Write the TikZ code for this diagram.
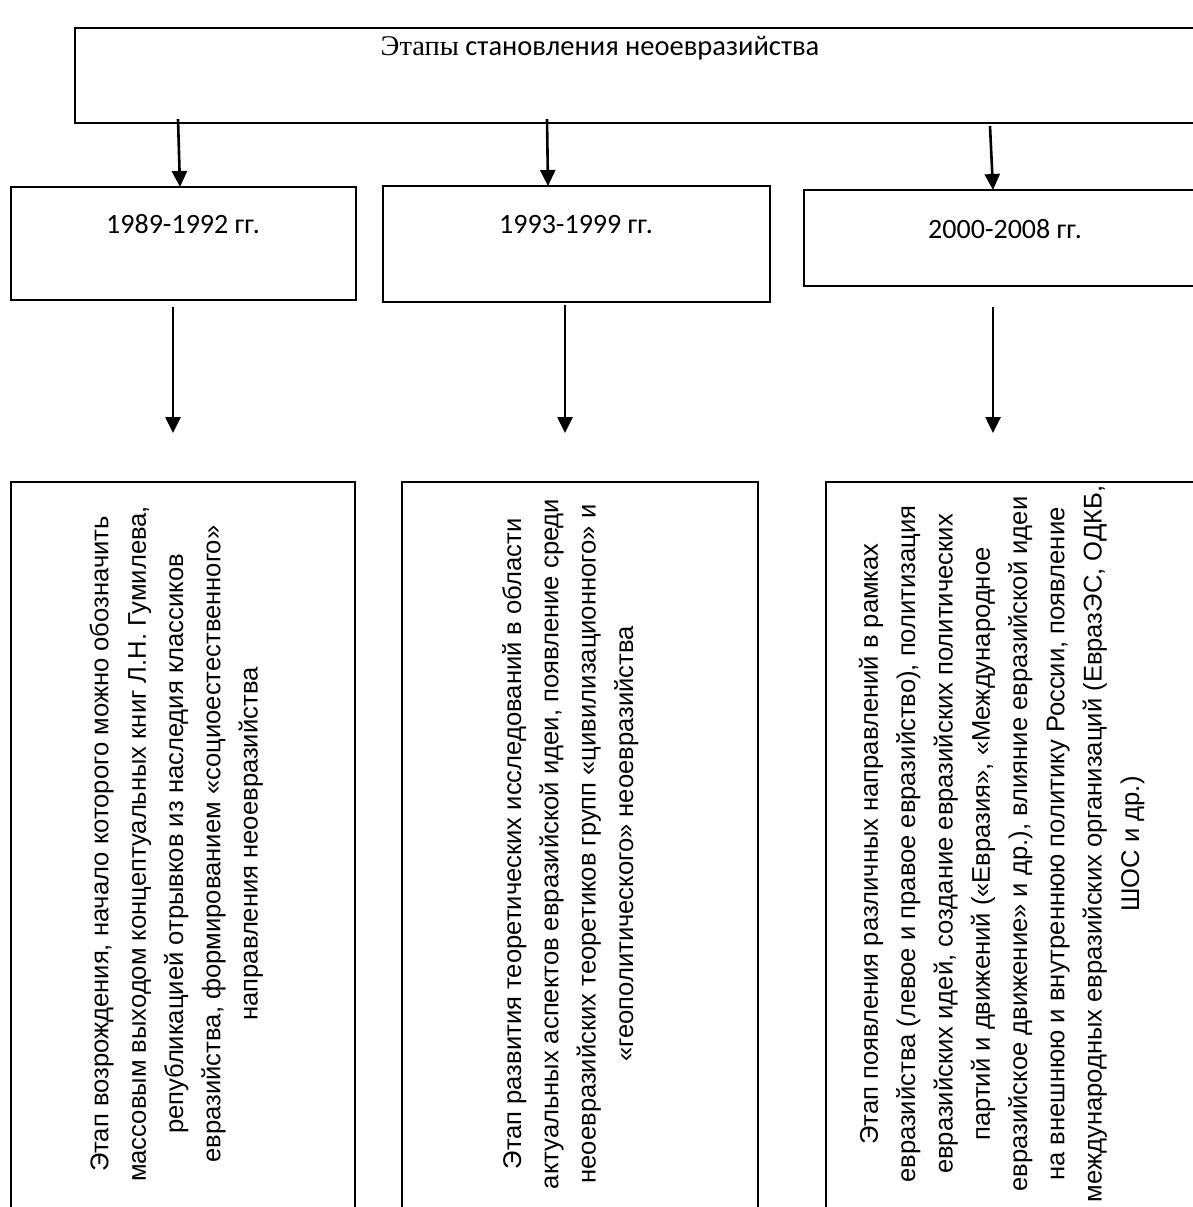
\documentclass[tikz,border=0pt]{standalone}
\usepackage{fontspec}
\setmainfont{Liberation Sans}
\newfontfamily\calib{Carlito}
\newfontfamily\timesf{Liberation Serif}
\usetikzlibrary{arrows.meta}
\begin{document}
\begin{tikzpicture}[x=1pt,y=-1pt,
  box/.style={draw,line width=2.6pt,inner sep=0pt,outer sep=0pt},
  arr/.style={line width=2.6pt,-{Triangle[length=16pt,width=15pt]}},
  yeartext/.style={inner sep=0pt,anchor=base,font=\calib\fontsize{28}{34}\selectfont},
  vtext/.style={inner sep=0pt,anchor=center,rotate=90,align=center,font=\fontsize{25.6}{37.3}\selectfont}]
\useasboundingbox (0,0) rectangle (1193,1207);
\fill[white] (0,0) rectangle (1193,1207);
\clip (0,0) rectangle (1193,1207);
% boxes
\node[box,anchor=north west,minimum width=1140pt,minimum height=95pt] (top) at (75,28) {};
\node[box,anchor=north west,minimum width=345pt,minimum height=113pt] (y1) at (11,187) {};
\node[box,anchor=north west,minimum width=387pt,minimum height=116pt] (y2) at (383,186) {};
\node[box,anchor=north west,minimum width=402pt,minimum height=96pt] (y3) at (804,190) {};
\node[box,anchor=north west,minimum width=344pt,minimum height=760pt] (b1) at (11,482) {};
\node[box,anchor=north west,minimum width=356pt,minimum height=760pt] (b2) at (402,482) {};
\node[box,anchor=north west,minimum width=400pt,minimum height=760pt] (b3) at (826,482) {};
% texts
\node[inner sep=0pt,anchor=base,font=\calib\fontsize{28.5}{34}\selectfont] (title) at (600,56) {{\timesf Этапы} становления неоевразийства};
\node[yeartext] (t1) at (183,233) {1989-1992 гг.};
\node[yeartext] (t2) at (576,233) {1993-1999 гг.};
\node[yeartext] (t3) at (1005,238) {2000-2008 гг.};
\node[vtext] (d1) at (175.6,844) {\strut Этап возрождения, начало которого можно обозначить\\
массовым выходом концептуальных книг Л.Н. Гумилева,\\
републикацией отрывков из наследия классиков\\
евразийства, формированием «социоестественного»\\
направления неоевразийства\strut};
\node[vtext] (d2) at (569.6,844) {\strut Этап развития теоретических исследований в области\\
актуальных аспектов евразийской идеи, появление среди\\
неоевразийских теоретиков групп «цивилизационного» и\\
«геополитического» неоевразийства\strut};
\node[vtext] (d3) at (1001,844) {\strut Этап появления различных направлений в рамках\\
евразийства (левое и правое евразийство), политизация\\
евразийских идей, создание евразийских политических\\
партий и движений («Евразия», «Международное\\
евразийское движение» и др.), влияние евразийской идеи\\
на внешнюю и внутреннюю политику России, появление\\
международных евразийских организаций (ЕвразЭС, ОДКБ,\\
ШОС и др.)\strut};
% connectors
\coordinate (s1) at (178,119);
\coordinate (s2) at (547,119);
\coordinate (s3) at (990,126);
\draw[arr] (s1) -- ([xshift=2pt]s1 |- y1.north);
\draw[arr] (s2) -- ([xshift=1pt]s2 |- y2.north);
\draw[arr] (s3) -- ([xshift=3pt]s3 |- y3.north);
\coordinate (m1) at (173,307);
\coordinate (m2) at (565,305);
\coordinate (m3) at (993,307);
\coordinate (e1) at (173,433);
\coordinate (e2) at (565,433);
\coordinate (e3) at (993,433);
\draw[arr] (m1) -- (e1);
\draw[arr] (m2) -- (e2);
\draw[arr] (m3) -- (e3);
\end{tikzpicture}
\end{document}
